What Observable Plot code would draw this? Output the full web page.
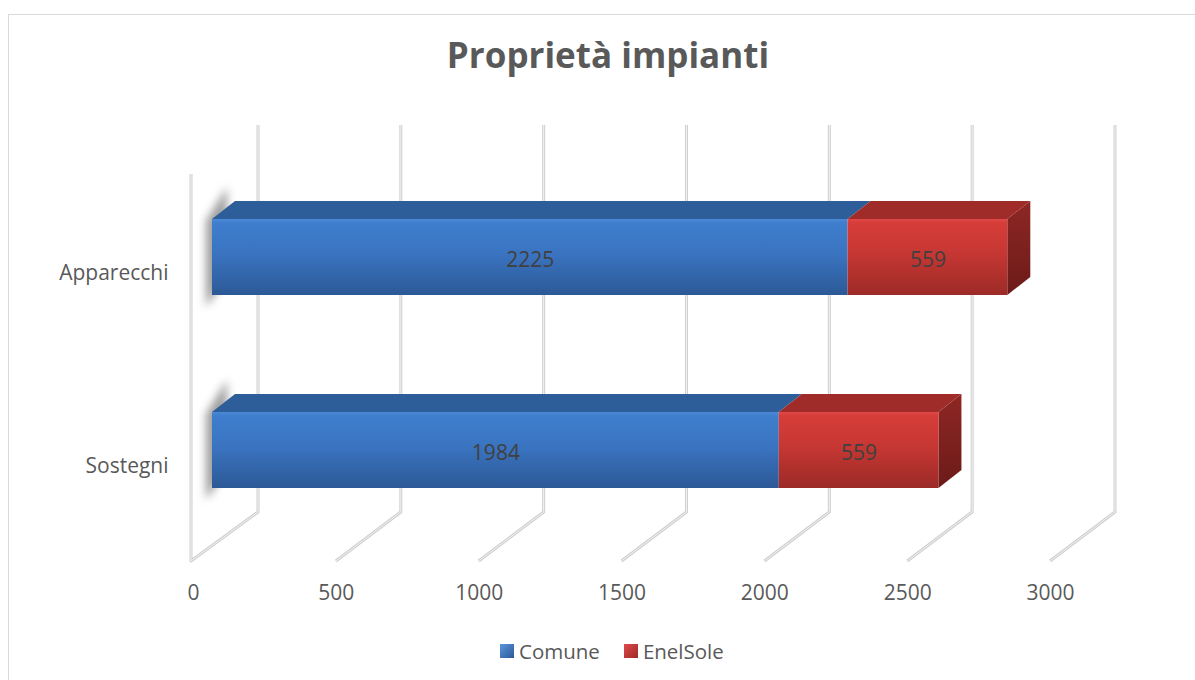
<!DOCTYPE html>
<html><head><meta charset="utf-8">
<script src="https://cdn.jsdelivr.net/npm/d3@7"></script>
<script src="https://cdn.jsdelivr.net/npm/@observablehq/plot@0.6"></script>
<style>
html,body{margin:0;padding:0;background:#fff;}
body{width:1195px;height:680px;overflow:hidden;position:relative;font-family:"Open Sans",sans-serif;}
#frame{position:absolute;left:8px;top:14px;width:1220px;height:700px;border:1.5px solid #d9d9d9;box-sizing:border-box;}
#title{position:absolute;left:0;top:37px;width:1216px;text-align:center;font-size:35px;font-weight:700;color:#595959;line-height:35px;}
#chart{position:absolute;left:0;top:100px;}
#legend{position:absolute;left:500px;top:641px;display:flex;align-items:center;font-size:20.5px;line-height:20px;color:#595959;}
.item{display:flex;align-items:center;}
.sw{width:14px;height:14px;margin-right:5px;box-sizing:border-box;}
</style>
</head><body>
<div id="frame"></div>
<div id="title">Proprietà impianti</div>
<div id="chart"></div>
<div id="legend"></div>
<script>
// ---- data ----
const categories = ["Apparecchi", "Sostegni"];
const series = ["Comune", "EnelSole"];
const comune = [2225, 1984];
const enelSole = [559, 559];
const xTicks = [0, 500, 1000, 1500, 2000, 2500, 3000];

const rows = categories.flatMap((c, i) => [
  {cat: c, serie: series[0], value: comune[i]},
  {cat: c, serie: series[1], value: enelSole[i]}
]);

// ---- geometry / style constants ----
const H = 520;
const FRONT = 19;            // bar front plane offset from axis plane
const DX = 23, DY = -18;     // bar depth projection
const WALL_DX = 65, WALL_DY = -49;
const floorFront = 461, wallTop = 25;
const topColors = ["#2e5e99", "#9f2c29"];

function defsMark() {
  const g = d3.create("svg:g");
  const defs = g.append("defs");
  const mk = (id, stops) => {
    const lg = defs.append("linearGradient").attr("id", id)
      .attr("x1", 0).attr("y1", 0).attr("x2", 0).attr("y2", 1);
    for (const [o, c] of stops) lg.append("stop").attr("offset", o).attr("stop-color", c);
  };
  mk("gBlue", [[0, "#4c8ad8"], [0.05, "#3f7ecd"], [0.45, "#3a74c1"], [1, "#2c5996"]]);
  mk("gRed", [[0, "#e0494a"], [0.05, "#d63d39"], [0.45, "#c63733"], [1, "#9c2a27"]]);
  mk("gSideRed", [[0, "#8e2724"], [1, "#6c1b19"]]);
  const f = defs.append("filter").attr("id", "shadow").attr("x", "-100%").attr("y", "-50%").attr("width", "300%").attr("height", "200%");
  f.append("feGaussianBlur").attr("stdDeviation", 4);
  return g.node();
}

function wallsMark(index, scales) {
  const x = scales.x;
  const g = d3.create("svg:g").attr("fill", "none").attr("stroke-linejoin", "round");
  for (const t of xTicks) {
    const xf = x(t), xb = xf + WALL_DX;
    let pts;
    if (t === 0) {
      pts = [[xf - 2, wallTop - WALL_DY], [xf - 2, floorFront], [xb, floorFront + WALL_DY], [xb, wallTop]];
    } else {
      pts = [[xf, floorFront], [xb, floorFront + WALL_DY], [xb, wallTop]];
    }
    const d = d3.line()(pts);
    g.append("path").attr("d", d).attr("stroke", "#cfcfcf").attr("stroke-width", 3);
    g.append("path").attr("d", d).attr("stroke", "#f2f2f2").attr("stroke-width", 1);
  }
  return g.node();
}

function facesMark(index, scales) {
  const x = scales.x, y = scales.y;
  const bw = y.bandwidth ? y.bandwidth() : 76;
  const g = d3.create("svg:g");
  categories.forEach((c, i) => {
    const yt = y(c);
    const vals = [comune[i], enelSole[i]];
    let acc = 0;
    const x0 = x(0) + FRONT;
    // soft shadow at the left end
    g.append("path")
      .attr("d", d3.line()([[x0 - 6, yt + 2], [x0 + DX - 8, yt + DY - 14], [x0 + DX - 8, yt + DY + bw], [x0 - 6, yt + bw + 12]]) + "Z")
      .attr("fill", "#000").attr("fill-opacity", 0.38).attr("filter", "url(#shadow)");
    vals.forEach((v, k) => {
      const xa = x(acc) + FRONT, xb = x(acc + v) + FRONT;
      acc += v;
      g.append("path")
        .attr("d", d3.line()([[xa, yt], [xb, yt], [xb + DX, yt + DY], [xa + DX, yt + DY]]) + "Z")
        .attr("fill", topColors[k]);
      if (k === vals.length - 1) {
        g.append("path")
          .attr("d", d3.line()([[xb, yt], [xb + DX, yt + DY], [xb + DX, yt + DY + bw], [xb, yt + bw]]) + "Z")
          .attr("fill", "url(#gSideRed)");
      }
    });
  });
  return g.node();
}

const plot = Plot.plot({
  width: 1195, height: H,
  marginLeft: 193, marginRight: 145, marginTop: 0, marginBottom: 21,
  x: {domain: [0, 3000], range: [193, 1050], axis: null},
  y: {domain: categories, range: [2, 505], padding: 0.606, axis: null},
  color: {domain: series, range: ["url(#gBlue)", "url(#gRed)"]},
  style: {fontFamily: "Open Sans, sans-serif", background: "transparent", overflow: "visible"},
  marks: [
    defsMark,
    wallsMark,
    facesMark,
    Plot.barX(rows, Plot.stackX({x: "value", y: "cat", fill: "serie", dx: FRONT})),
    Plot.text(rows, Plot.stackX({x: "value", y: "cat", text: d => String(d.value), dx: FRONT, dy: 3, fill: "#404040", fontSize: 21})),
    Plot.text(categories, {y: d => d, text: d => d, frameAnchor: "left", textAnchor: "end", dx: -25, dy: 16, fill: "#595959", fontSize: 21}),
    Plot.text(xTicks, {x: d => d, text: d => String(d), frameAnchor: "bottom", fill: "#595959", fontSize: 21})
  ]
});
document.getElementById("chart").appendChild(plot);

// legend
const legend = d3.select("#legend");
const swatch = ["linear-gradient(135deg,#5b95de,#2c5996)", "linear-gradient(135deg,#e0494a,#9c2a27)"];
series.forEach((s, k) => {
  const it = legend.append("div").attr("class", "item").style("margin-left", k ? "24px" : "0px");
  it.append("div").attr("class", "sw").style("background", swatch[k]);
  it.append("span").text(s);
});
</script>
</body></html>
